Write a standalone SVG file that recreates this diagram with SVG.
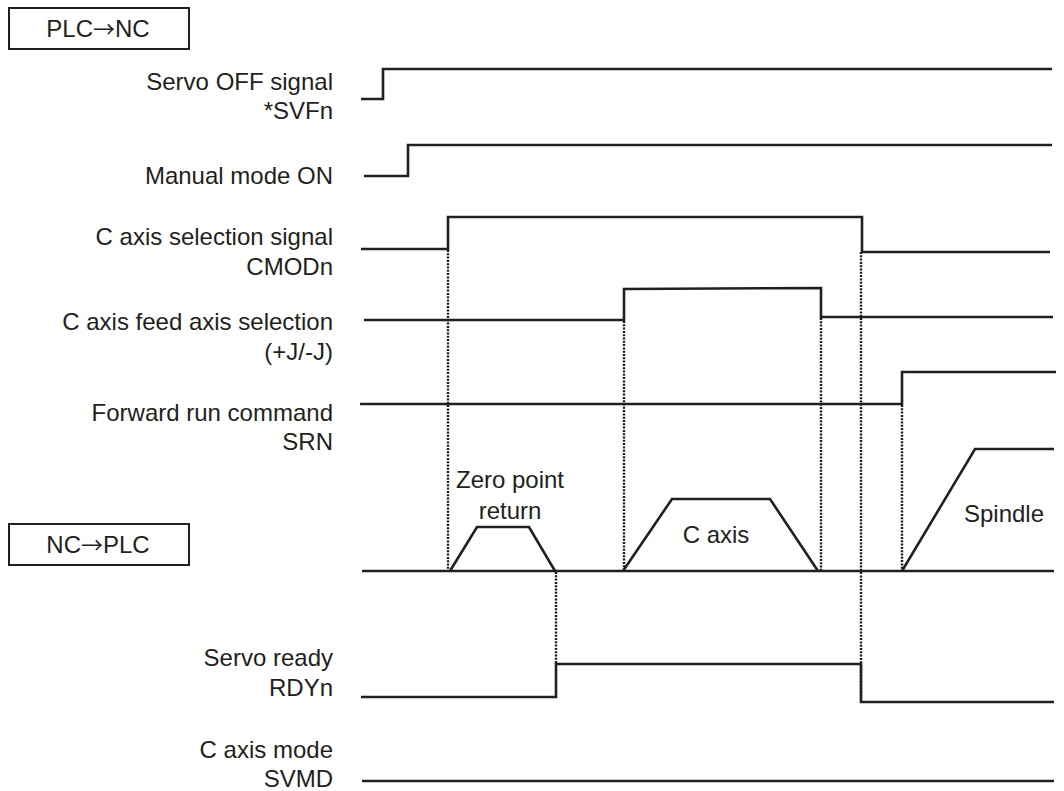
<svg xmlns="http://www.w3.org/2000/svg" width="1064" height="791" viewBox="0 0 1064 791">
<style>
.t{font-family:"Liberation Sans",Arial,sans-serif;font-size:24px;fill:#231f20}
.a{font-family:"Noto Sans CJK JP","DejaVu Sans",sans-serif;font-size:22px}
.r{text-anchor:end}
.m{text-anchor:middle}
.w{fill:none;stroke:#231f20;stroke-width:2.6;stroke-linejoin:miter;stroke-linecap:butt}
.d{fill:none;stroke:#1a1a1a;stroke-width:2.4;stroke-dasharray:2 1.3}
.b{fill:#fff;stroke:#231f20;stroke-width:2}
</style>
<rect width="1064" height="791" fill="#fff"/>
<g id="connectors">
<line class="d" x1="448" y1="250" x2="448" y2="570"/>
<line class="d" x1="624" y1="321" x2="624" y2="570"/>
<line class="d" x1="821" y1="318" x2="821" y2="570"/>
<line class="d" x1="861" y1="252" x2="861" y2="698"/>
<line class="d" x1="902" y1="405" x2="902" y2="570"/>
<line class="d" x1="556" y1="572" x2="556" y2="664"/>
</g>
<g id="box-plc-nc">
<rect class="b" x="9" y="8" width="180" height="41"/>
<text class="t m" x="98" y="37">PLC<tspan class="a">→</tspan>NC</text>
</g>
<g id="box-nc-plc">
<rect class="b" x="9" y="524" width="180" height="41"/>
<text class="t m" x="98" y="553">NC<tspan class="a">→</tspan>PLC</text>
</g>
<g id="sig-servo-off">
<text class="t r" x="333" y="90">Servo OFF signal</text>
<text class="t r" x="333" y="119">*SVFn</text>
<polyline class="w" points="361,99 383,99 383,69 1052,69"/>
</g>
<g id="sig-manual">
<text class="t r" x="333" y="184">Manual mode ON</text>
<polyline class="w" points="364,176 408,176 408,145 1052,145"/>
</g>
<g id="sig-cmod">
<text class="t r" x="333" y="245">C axis selection signal</text>
<text class="t r" x="333" y="275">CMODn</text>
<polyline class="w" points="361,249 448,249 448,217 862,217 862,252 1050,252"/>
</g>
<g id="sig-feed">
<text class="t r" x="333" y="330">C axis feed axis selection</text>
<text class="t r" x="333" y="360">(+J/-J)</text>
<polyline class="w" points="364,320 624,320 624,289 821,288 821,317 1053,317"/>
</g>
<g id="sig-srn">
<text class="t r" x="333" y="421">Forward run command</text>
<text class="t r" x="333" y="450">SRN</text>
<polyline class="w" points="360,404 902,404 902,372 1056,372"/>
</g>
<g id="sig-motion">
<line class="w" x1="362" y1="571" x2="1054" y2="571"/>
<polyline class="w" points="450,571 477,527 529,527 555,571"/>
<polyline class="w" points="623,571 672,499 770,499 818,571"/>
<polyline class="w" points="902,571 975,449 1054,449"/>
<text class="t m" x="510" y="488">Zero point</text>
<text class="t m" x="510" y="519">return</text>
<text class="t m" x="716" y="543">C axis</text>
<text class="t m" x="1004" y="522">Spindle</text>
</g>
<g id="sig-rdy">
<text class="t r" x="333" y="666">Servo ready</text>
<text class="t r" x="333" y="696">RDYn</text>
<polyline class="w" points="361,697 556,697 556,664 861,664 861,702 1054,702"/>
</g>
<g id="sig-svmd">
<text class="t r" x="333" y="758">C axis mode</text>
<text class="t r" x="333" y="787">SVMD</text>
<line class="w" x1="362" y1="781" x2="1054" y2="781"/>
</g>
</svg>
